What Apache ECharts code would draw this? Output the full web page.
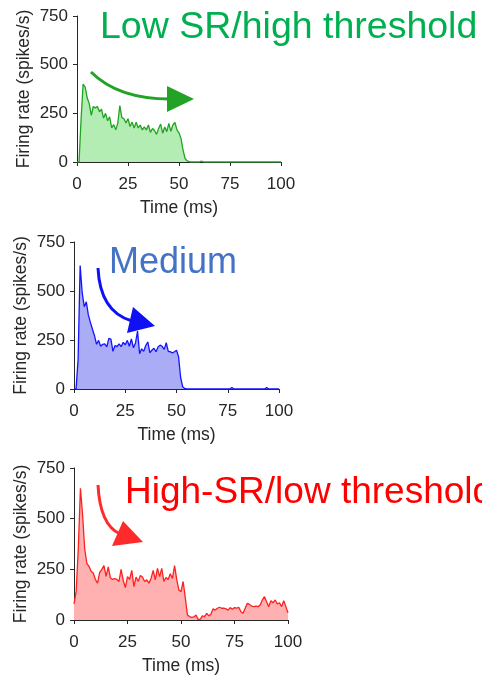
<!DOCTYPE html>
<html>
<head>
<meta charset="utf-8">
<script src="https://cdn.jsdelivr.net/npm/echarts@6/dist/echarts.min.js"></script>
<style>
html, body { margin: 0; padding: 0; background: #fff; }
#chart { width: 482px; height: 677px; }
</style>
</head>
<body>
<div id="chart"></div>
<script>
// PSTH data, 1 ms bins starting at 0 ms
var BIN_MS = 1;
var xTicks = [0, 25, 50, 75, 100];
var yTicks = [0, 250, 500, 750];

// low SR / high threshold
var rateLowSR = [0, 0, 220, 400, 385, 330, 300, 240, 285, 278, 285, 258, 272, 225, 250, 212, 232, 175, 192, 165,
	200, 290, 228, 222, 200, 222, 182, 205, 175, 205, 175, 190, 165, 180, 165, 190, 152, 172, 162, 142,
	172, 195, 148, 180, 156, 198, 158, 190, 203, 165, 150, 120, 60, 18, 6, 2, 0, 0, 0, 0,
	0, 5, 0, 0, 0, 0, 0, 0, 0, 0, 0, 0, 0, 0, 0, 0, 0, 0, 0, 0,
	0, 0, 0, 0, 0, 0, 0, 0, 0, 0, 0, 0, 0, 0, 0, 0, 0, 0, 0, 0, 0];
// medium
var rateMedium = [0, 0, 150, 630, 490, 420, 445, 378, 340, 305, 272, 228, 248, 218, 228, 230, 215, 258, 255, 192,
	222, 216, 230, 216, 238, 226, 248, 218, 255, 210, 235, 295, 180, 205, 192, 222, 240, 185, 198, 208,
	190, 214, 224, 218, 202, 236, 192, 190, 184, 190, 198, 165, 60, 12, 3, 1, 0, 0, 0, 0,
	0, 0, 0, 0, 0, 0, 0, 0, 0, 0, 0, 0, 0, 0, 0, 0, 0, 8, 0, 0,
	0, 0, 0, 0, 0, 0, 0, 0, 0, 0, 0, 0, 0, 0, 8, 0, 0, 0, 0, 0, 0];
// high SR / low threshold
var rateHighSR = [80, 140, 350, 650, 520, 350, 280, 265, 240, 232, 200, 182, 235, 250, 268, 215, 262, 208, 200, 204,
	200, 190, 250, 195, 160, 214, 200, 245, 165, 212, 190, 220, 212, 190, 198, 182, 205, 245, 198, 255,
	214, 255, 190, 210, 200, 228, 205, 268, 200, 148, 140, 190, 110, 25, 17, 13, 15, 25, 3, 3,
	20, 17, 33, 20, 30, 55, 49, 58, 63, 58, 58, 55, 49, 61, 53, 61, 58, 63, 41, 33,
	58, 82, 77, 69, 66, 69, 66, 74, 99, 115, 90, 66, 95, 85, 99, 79, 85, 66, 95, 66, 36];

var chartDom = document.getElementById('chart');
var myChart = echarts.init(chartDom, null, { renderer: 'canvas' });

var FONT = 'Liberation Sans, Arial, Helvetica, sans-serif';
var AXIS_COLOR = '#262626';

// 三个子图的位置
var grids = [
	{ left: 77, top: 16, width: 204, height: 146 },
	{ left: 74, top: 242, width: 205, height: 147 },
	{ left: 74, top: 468, width: 214, height: 152 }
];

var panels = [
	{ rates: rateLowSR, line: '#22a322', fill: '#b4edb4' },
	{ rates: rateMedium, line: '#1414ff', fill: '#aaacf5' },
	{ rates: rateHighSR, line: '#ff2020', fill: '#ffb0b0' }
];

function toPairs(rates) {
	var out = [];
	for (var i = 0; i < rates.length; i++) {
		out.push([i * BIN_MS, rates[i]]);
	}
	return out;
}

var xAxes = [], yAxes = [], series = [];
for (var i = 0; i < panels.length; i++) {
	xAxes.push({
		type: 'value', gridIndex: i,
		min: xTicks[0], max: xTicks[xTicks.length - 1], interval: xTicks[1] - xTicks[0],
		name: 'Time (ms)', nameLocation: 'middle', nameGap: 37,
		nameTextStyle: { fontFamily: FONT, fontSize: 17.5, color: AXIS_COLOR },
		axisLine: { lineStyle: { color: AXIS_COLOR, width: 1 } },
		axisTick: { inside: false, length: 4, lineStyle: { color: AXIS_COLOR } },
		axisLabel: { fontFamily: FONT, fontSize: 17, color: AXIS_COLOR, margin: 14 },
		splitLine: { show: false }
	});
	yAxes.push({
		type: 'value', gridIndex: i,
		min: yTicks[0], max: yTicks[yTicks.length - 1], interval: yTicks[1] - yTicks[0],
		name: 'Firing rate (spikes/s)', nameLocation: 'middle', nameGap: 44,
		nameTextStyle: { fontFamily: FONT, fontSize: 17.5, color: AXIS_COLOR },
		axisLine: { show: true, lineStyle: { color: AXIS_COLOR, width: 1 } },
		axisTick: { show: true, inside: false, length: 4, lineStyle: { color: AXIS_COLOR } },
		axisLabel: { fontFamily: FONT, fontSize: 17, color: AXIS_COLOR, margin: 9 },
		splitLine: { show: false }
	});
	series.push({
		type: 'line', xAxisIndex: i, yAxisIndex: i,
		data: toPairs(panels[i].rates),
		showSymbol: false, smooth: false,
		lineStyle: { color: panels[i].line, width: 1.3 },
		areaStyle: { color: panels[i].fill, opacity: 1 },
		z: 2
	});
}

// 注释: 文字 + 弯曲箭头
function arrow(p0, cp, p1, head, color) {
	return [
		{ type: 'bezierCurve', shape: { x1: p0[0], y1: p0[1], cpx1: cp[0], cpy1: cp[1], x2: p1[0], y2: p1[1] },
			style: { stroke: color, lineWidth: 3, fill: null }, z: 10 },
		{ type: 'polygon', shape: { points: head }, style: { fill: color }, z: 10 }
	];
}

var graphics = [
	{ type: 'text', left: 100, top: 9, style: { text: 'Low SR/high threshold', fill: '#00b050',
		font: '37.5px ' + FONT }, z: 10 },
	{ type: 'text', left: 109, top: 245, style: { text: 'Medium', fill: '#4472c4',
		font: '36px ' + FONT }, z: 10 },
	{ type: 'text', left: 125, top: 474, style: { text: 'High-SR/low threshold', fill: '#ff0000',
		font: '37px ' + FONT }, z: 10 }
].concat(
	arrow([91, 72], [118, 99], [170, 99], [[167, 86], [194, 99], [167, 112]], '#22a326'),
	arrow([98, 268], [100, 312], [132, 321], [[133, 307], [155, 326], [127, 333]], '#1010f5'),
	arrow([98, 485], [100, 525], [120, 534], [[123, 521], [143, 542], [112, 546]], '#ff2a2a')
);

myChart.setOption({
	backgroundColor: '#ffffff',
	animation: false,
	grid: grids,
	xAxis: xAxes,
	yAxis: yAxes,
	series: series,
	graphic: graphics
});
</script>
</body>
</html>
